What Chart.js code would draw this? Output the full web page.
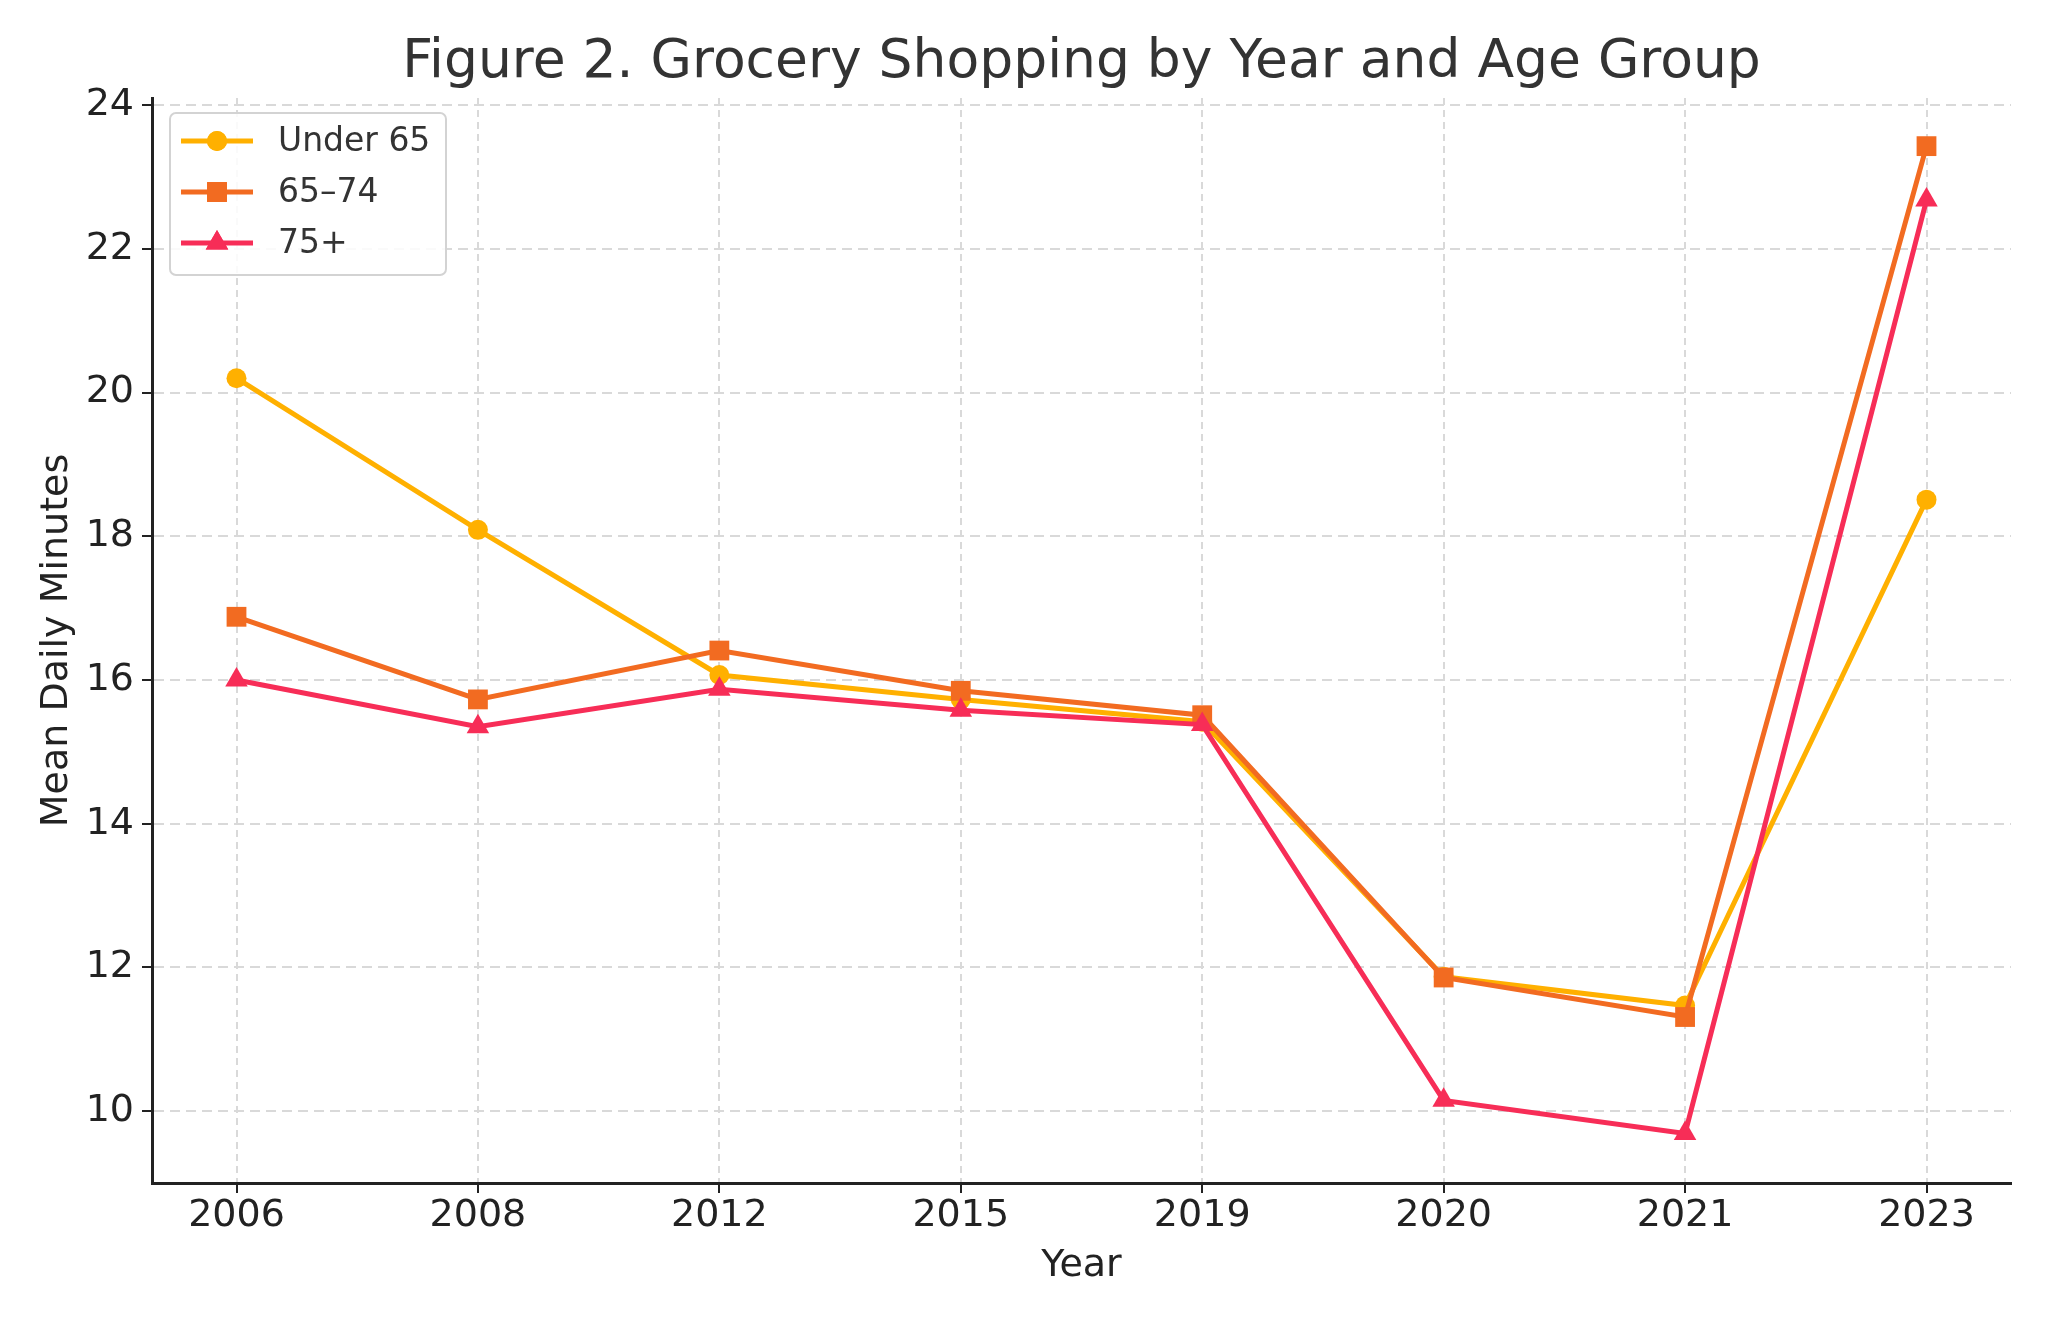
<!DOCTYPE html>
<html>
<head>
<meta charset="utf-8">
<script src="https://cdn.jsdelivr.net/npm/chart.js@4"></script>
<style>
  html, body { margin: 0; padding: 0; background: #fff; }
  #wrap { width: 2048px; height: 1325px; }
</style>
</head>
<body>
<div id="wrap"><canvas id="myChart" width="2048" height="1325"></canvas></div>
<script>
const years = ["2006", "2008", "2012", "2015", "2019", "2020", "2021", "2023"];
const under65 = [20.2, 18.09, 16.07, 15.73, 15.42, 11.87, 11.47, 18.51];
const age6574 = [16.88, 15.73, 16.41, 15.85, 15.51, 11.86, 11.31, 23.43];
const age75plus = [16.0, 15.35, 15.87, 15.58, 15.38, 10.15, 9.69, 22.68];
const seriesNames = ["Under 65", "65–74", "75+"];
const yTicks = [10, 12, 14, 16, 18, 20, 22, 24];

const font = "'DejaVu Sans', sans-serif";
const colors = ["#FFB000", "#F26B21", "#F72D57"];
const markers = ["circle", "rect", "triangle"];
const markerSize = [10, 14, 13];

const toPoints = (vals) => vals.map((v, i) => ({x: i, y: v}));

const makeSet = (k, vals) => ({
    label: seriesNames[k],
    data: toPoints(vals),
    borderColor: colors[k],
    backgroundColor: colors[k],
    borderWidth: 5,
    pointStyle: markers[k],
    pointRadius: markerSize[k],
    pointBorderWidth: 0,
    pointHoverRadius: markerSize[k],
    tension: 0,
    order: 3 - k   // later series drawn on top
});

// title drawn centred over the plot area, like matplotlib
const titlePlugin = {
    id: "axTitle",
    afterDraw(chart) {
        const ctx = chart.ctx;
        const a = chart.chartArea;
        ctx.save();
        ctx.font = "53.5px " + font;
        ctx.fillStyle = "#333333";
        ctx.textAlign = "center";
        ctx.textBaseline = "alphabetic";
        ctx.fillText("Figure 2. Grocery Shopping by Year and Age Group", (a.left + a.right) / 2, 77);
        ctx.restore();
    }
};

// legend box with line + marker samples
const legendPlugin = {
    id: "boxLegend",
    afterDatasetsDraw(chart) {
        const ctx = chart.ctx;
        const a = chart.chartArea;
        const x0 = a.left + 18, y0 = a.top + 15, w = 276, h = 162;
        ctx.save();
        ctx.beginPath();
        ctx.roundRect(x0, y0, w, h, 6);
        ctx.fillStyle = "rgba(255,255,255,0.85)";
        ctx.fill();
        ctx.lineWidth = 2;
        ctx.strokeStyle = "#d3d3d3";
        ctx.stroke();
        chart.data.datasets.forEach((ds, k) => {
            const cy = y0 + 28 + k * 51;
            ctx.strokeStyle = ds.borderColor;
            ctx.lineWidth = 5;
            ctx.beginPath();
            ctx.moveTo(x0 + 11, cy);
            ctx.lineTo(x0 + 83, cy);
            ctx.stroke();
            ctx.fillStyle = ds.backgroundColor;
            Chart.helpers.drawPoint(ctx, {pointStyle: ds.pointStyle, radius: ds.pointRadius, borderWidth: 0, rotation: 0}, x0 + 47, cy);
            ctx.fill();
            ctx.fillStyle = "#333333";
            ctx.font = "33px " + font;
            ctx.textAlign = "left";
            ctx.textBaseline = "middle";
            ctx.fillText(ds.label, x0 + 108, cy + 1);
        });
        ctx.restore();
    }
};

const ctx = document.getElementById("myChart").getContext("2d");
const myChart = new Chart(ctx, {
    type: "line",
    data: {
        datasets: [makeSet(0, under65), makeSet(1, age6574), makeSet(2, age75plus)]
    },
    options: {
        responsive: false,
        animation: false,
        devicePixelRatio: 1,
        layout: {padding: {top: 98, right: 37, bottom: 0, left: 0}},
        plugins: {
            legend: {display: false},
            title: {display: false},
            tooltip: {enabled: false}
        },
        scales: {
            x: {
                type: "linear",
                min: -0.35,
                max: 7.35,
                afterBuildTicks: (s) => { s.ticks = years.map((y, i) => ({value: i})); },
                afterFit: (s) => { s.height = 142; },
                ticks: {
                    callback: (v) => years[v],
                    color: "#222222",
                    font: {family: font, size: 38},
                    padding: 0,
                    maxRotation: 0,
                    autoSkip: false
                },
                grid: {
                    color: "#d9d9d9",
                    lineWidth: 2,
                    tickLength: 10,
                    tickColor: "#222222",
                    tickWidth: 2
                },
                border: {display: true, color: "#222222", width: 3, dash: [7, 5]},
                title: {
                    display: true,
                    text: "Year",
                    color: "#222222",
                    font: {family: font, size: 38},
                    padding: {top: 0, bottom: 36}
                }
            },
            y: {
                min: 9.0,
                max: 24.1,
                afterBuildTicks: (s) => { s.ticks = yTicks.map(v => ({value: v})); },
                afterFit: (s) => { s.width = 152; },
                ticks: {
                    color: "#222222",
                    font: {family: font, size: 38},
                    padding: 8
                },
                grid: {
                    color: "#d9d9d9",
                    lineWidth: 2,
                    tickLength: 10,
                    tickColor: "#222222",
                    tickWidth: 2
                },
                border: {display: true, color: "#222222", width: 3, dash: [10, 6]},
                title: {
                    display: true,
                    text: "Mean Daily Minutes",
                    color: "#222222",
                    font: {family: font, size: 38},
                    padding: {top: 34, bottom: 0}
                }
            }
        }
    },
    plugins: [titlePlugin, legendPlugin]
});
</script>
</body>
</html>
